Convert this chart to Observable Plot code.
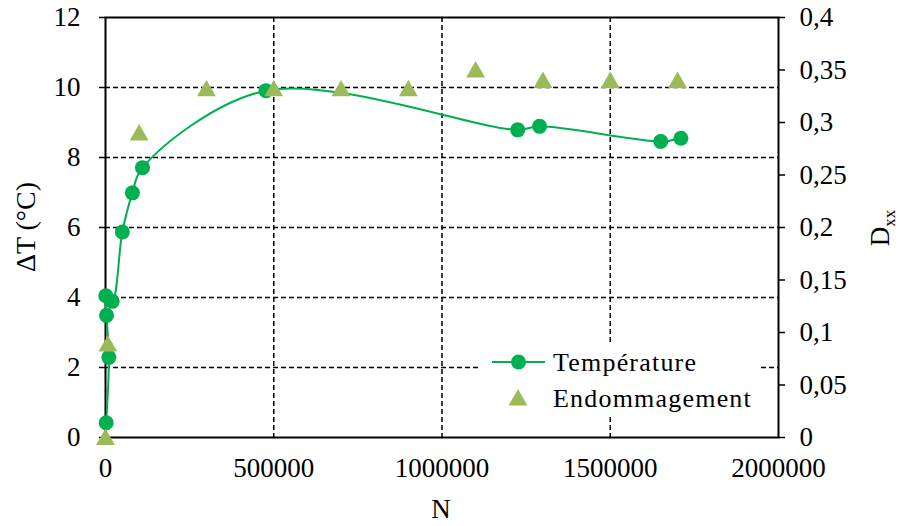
<!DOCTYPE html>
<html><head><meta charset="utf-8">
<script src="https://cdn.jsdelivr.net/npm/d3@7"></script>
<script src="https://cdn.jsdelivr.net/npm/@observablehq/plot@0.6"></script>
<style>html,body{margin:0;padding:0;background:#fff} svg{display:block}</style>
</head><body><div id="chart"></div>
<script>
// ---- data ----
const tempN  = [2000, 10000, 3000, 1000, 20000, 50000, 80000, 110000, 477000, 1225000, 1290000, 1650000, 1710000];
const tempDT = [0.42, 2.29, 3.49, 4.05, 3.89, 5.87, 6.99, 7.71, 9.91, 8.79, 8.89, 8.46, 8.55];
const endN   = [0, 7000, 100000, 300000, 500000, 700000, 900000, 1100000, 1300000, 1500000, 1700000];
const endD   = [0, 0.089, 0.29, 0.332, 0.332, 0.332, 0.332, 0.35, 0.34, 0.34, 0.34];
const xTicks = [0, 500000, 1000000, 1500000, 2000000];
const yTicks = [0, 2, 4, 6, 8, 10, 12];
const dTicks = [0, 0.05, 0.1, 0.15, 0.2, 0.25, 0.3, 0.35, 0.4];
const gridX  = [500000, 1000000, 1500000];
const gridY  = [2, 4, 6, 8, 10];
const seriesNames = ["Température", "Endommagement"];
const xTitle = "N";
const yTitle = "ΔT (°C)";
const y2Title = ["D", "xx"];

const dScale = 12 / 0.4;   // maps D onto the ΔT scale
const temp = tempN.map((n, i) => ({N: n, T: tempDT[i]}));
const endo = endN.map((n, i) => ({N: n, D: endD[i]}));
const fmtD = v => String(Math.round(v / dScale * 100) / 100).replace(".", ",");

const plot = Plot.plot({
  width: 900, height: 526,
  marginLeft: 105, marginRight: 122, marginTop: 17, marginBottom: 89,
  style: {fontFamily: "'Liberation Serif', serif", fontSize: "27px", color: "#000", background: "#fff"},
  x: {domain: [0, 2000000]},
  y: {domain: [0, 12]},
  marks: [
    Plot.ruleY(gridY, {stroke: "#000", strokeWidth: 1.5, strokeDasharray: "5,3"}),
    Plot.ruleX(gridX, {stroke: "#000", strokeWidth: 1.5, strokeDasharray: "5,3"}),
    Plot.frame({stroke: "#000", strokeWidth: 2}),
    Plot.axisY({ticks: yTicks, tickSize: 6, tickPadding: 19, label: null, tickFormat: d => String(d), strokeWidth: 1.5}),
    Plot.axisY({anchor: "right", ticks: dTicks.map(d => d * dScale), tickSize: 6, tickPadding: 15, label: null, tickFormat: fmtD, strokeWidth: 1.5}),
    Plot.axisX({ticks: xTicks, tickSize: 0, tickPadding: 20, label: null, tickFormat: d => String(d)}),
    Plot.line(temp, {x: "N", y: "T", stroke: "#00b050", strokeWidth: 2, curve: "catmull-rom"}),
    Plot.dot(temp, {x: "N", y: "T", r: 7.5, fill: "#00b050"}),
    Plot.dot(endo, {x: "N", y: d => d.D * dScale, r: 7, symbol: "triangle", fill: "#9bbb59", dy: 2})
  ]
});
document.getElementById("chart").appendChild(plot);

// ---- titles & legend ----
const svg = d3.select(plot);
const ff = "'Liberation Serif', serif";
svg.append("text").attr("transform", "translate(25,227) rotate(-90)")
  .attr("text-anchor", "middle").attr("dy", "0.35em")
  .attr("font-family", ff).attr("font-size", 28).text(yTitle);
const t2 = svg.append("text").attr("transform", "translate(880,228) rotate(-90)")
  .attr("text-anchor", "middle").attr("dy", "0.35em")
  .attr("font-family", ff).attr("font-size", 27);
t2.append("tspan").text(y2Title[0]);
t2.append("tspan").attr("font-size", 17).attr("dy", "0.35em").text(y2Title[1]);
svg.append("text").attr("x", 441).attr("y", 509).attr("text-anchor", "middle").attr("dy", "0.35em")
  .attr("font-family", ff).attr("font-size", 27).text(xTitle);

const lg = svg.append("g");
lg.append("rect").attr("x", 480).attr("y", 342).attr("width", 280).attr("height", 75)
  .attr("fill", "#fff").attr("stroke", "none");
lg.append("line").attr("x1", 492).attr("x2", 545).attr("y1", 362).attr("y2", 362)
  .attr("stroke", "#00b050").attr("stroke-width", 2);
lg.append("circle").attr("cx", 518.5).attr("cy", 362).attr("r", 7.5).attr("fill", "#00b050");
lg.append("path").attr("transform", "translate(518,400)")
  .attr("d", d3.symbol(d3.symbolTriangle, Math.PI * 49)()).attr("fill", "#9bbb59");
seriesNames.forEach((s, i) => {
  lg.append("text").attr("x", 553).attr("y", 362 + i * 36).attr("dy", "0.35em")
    .attr("text-anchor", "start")
    .attr("font-family", ff).attr("font-size", 26).attr("letter-spacing", "1.2px").text(s);
});
</script>
</body></html>
